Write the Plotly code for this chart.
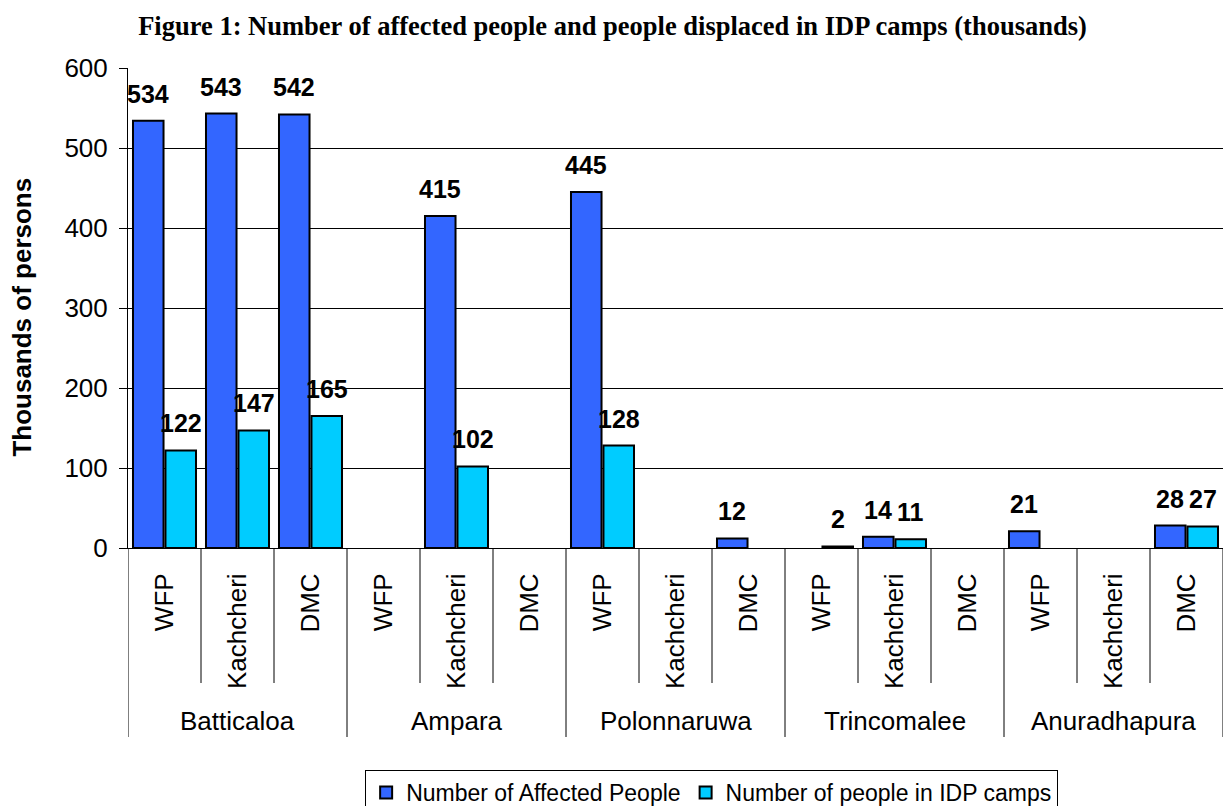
import plotly.graph_objects as go

# ---- data ----
districts = ["Batticaloa", "Ampara", "Polonnaruwa", "Trincomalee", "Anuradhapura"]
sources = ["WFP", "Kachcheri", "DMC"]
affected = [534, 543, 542, None, 415, None, 445, None, 12, None, 14, None, 21, None, 28]
idp_camps = [122, 147, 165, None, 102, None, 128, None, None, 2, 11, None, None, None, 27]
series_names = ["Number of Affected People", "Number of people in IDP camps"]
y_ticks = [0, 100, 200, 300, 400, 500, 600]

# ---- derived ----
n = len(districts) * len(sources)
xs = list(range(n))
sub_labels = [s for _ in districts for s in sources]

BLUE = "#3366FF"
CYAN = "#00CCFF"
FONT = "Liberation Sans, Arial, sans-serif"
BARGAP = 0.11
BARGROUPGAP = 0.06

fig = go.Figure()
fig.add_trace(go.Bar(x=xs, y=affected, name=series_names[0],
                     marker=dict(color=BLUE, line=dict(color="black", width=2))))
fig.add_trace(go.Bar(x=xs, y=idp_camps, name=series_names[1],
                     marker=dict(color=CYAN, line=dict(color="black", width=2))))

annotations = []
half = (1 - BARGAP) / 4
for series, off in ((affected, -half), (idp_camps, half)):
    for i, v in zip(xs, series):
        if v is None:
            continue
        annotations.append(dict(x=i + off, y=v, xref="x", yref="y", text="<b>%d</b>" % v,
                                showarrow=False, yanchor="bottom", xanchor="center",
                                yshift=11, font=dict(family=FONT, size=25, color="black")))

# group labels
for g, name in enumerate(districts):
    annotations.append(dict(x=g * 3 + 1, y=-0.36, xref="x", yref="paper", text=name,
                            showarrow=False, yanchor="middle", xanchor="center",
                            font=dict(family=FONT, size=26, color="black")))

# y title
annotations.append(dict(x=-0.0968, y=0.48, xref="paper", yref="paper",
                        text="<b>Thousands of persons</b>", textangle=-90, showarrow=False,
                        xanchor="center", yanchor="middle",
                        font=dict(family=FONT, size=26, color="black")))

shapes = []
for k in range(n + 1):
    y0 = -0.39375 if k % 3 == 0 else -0.28125
    shapes.append(dict(type="line", xref="x", yref="paper", x0=k - 0.5, x1=k - 0.5,
                       y0=0, y1=y0, line=dict(color="black", width=1)))

fig.update_layout(
    width=1225, height=806,
    margin=dict(l=128, r=2, t=68, b=258, autoexpand=False),
    paper_bgcolor="white", plot_bgcolor="white",
    barmode="group", bargap=BARGAP, bargroupgap=BARGROUPGAP,
    title=dict(text="<b>Figure 1: Number of affected people and people displaced in IDP camps (thousands)</b>",
               x=0.5, xanchor="center", y=0.968, yanchor="middle", yref="container",
               font=dict(family="Liberation Serif, Times New Roman, serif", size=26.5, color="black")),
    xaxis=dict(range=[-0.5, n - 0.5], tickmode="array", tickvals=xs, ticktext=sub_labels,
               tickangle=-90, ticks="", showline=True, linecolor="black", linewidth=1,
               showgrid=False, zeroline=False, ticklabelstandoff=14, automargin=False,
               tickfont=dict(family=FONT, size=26, color="black")),
    yaxis=dict(range=[0, 600], tickmode="array", tickvals=y_ticks, showline=True,
               linecolor="black", linewidth=1, ticks="outside", ticklen=8, tickcolor="black",
               showgrid=True, gridcolor="black", gridwidth=1, zeroline=False,
               ticklabelstandoff=6, automargin=False,
               tickfont=dict(family=FONT, size=26, color="black")),
    legend=dict(orientation="h", x=0.533, xanchor="center", y=-0.4625, yanchor="top",
                bordercolor="black", borderwidth=1, bgcolor="white",
                font=dict(family=FONT, size=23, color="black"),
                itemclick=False, tracegroupgap=0, itemwidth=30),
    annotations=annotations, shapes=shapes,
    showlegend=True,
)

fig.write_html("out.html")
